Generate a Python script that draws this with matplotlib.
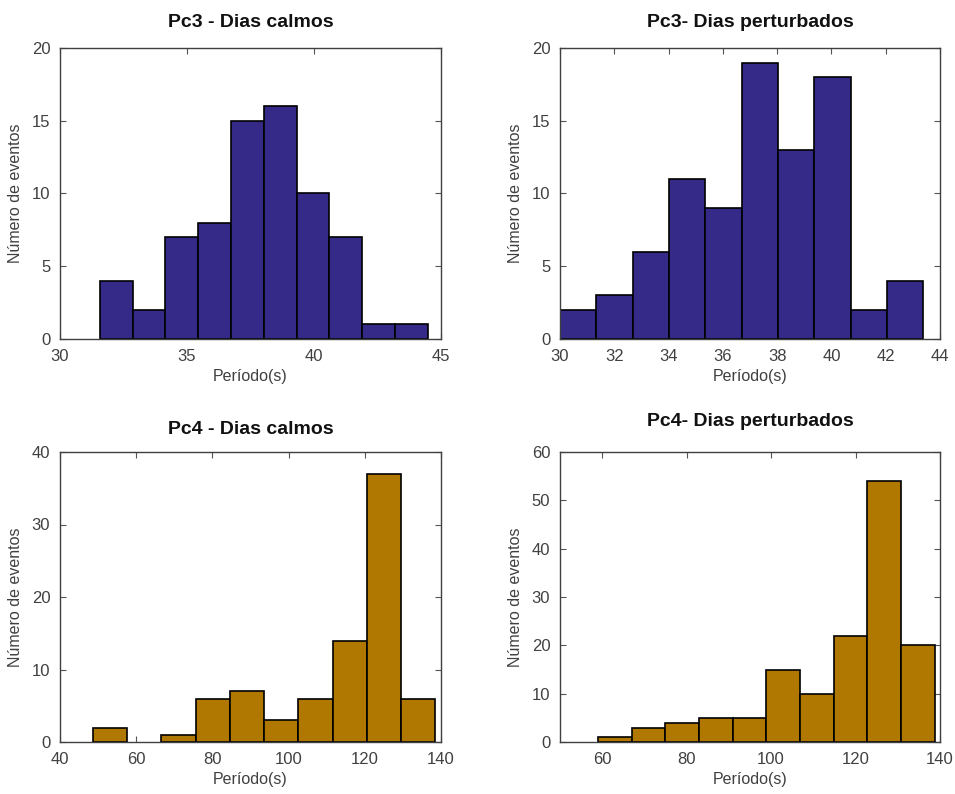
import numpy as np
import matplotlib
matplotlib.use('agg')
import matplotlib.pyplot as plt

plt.rcParams['font.family'] = ['Liberation Sans', 'DejaVu Sans']

# counts per bin
pc3_calm = [4, 2, 7, 8, 15, 16, 10, 7, 1, 1]
pc3_calm_range = (31.57, 44.48)
pc3_pert = [2, 3, 6, 11, 9, 19, 13, 18, 2, 4]
pc3_pert_range = (30.0, 43.39)
pc4_calm = [2, 0, 1, 6, 7, 3, 6, 14, 37, 6]
pc4_calm_range = (48.6, 138.5)
pc4_pert = [1, 3, 4, 5, 5, 15, 10, 22, 54, 20]
pc4_pert_range = (59.0, 138.7)

titles = ['Pc3 - Dias calmos', 'Pc3- Dias perturbados',
          'Pc4 - Dias calmos', 'Pc4- Dias perturbados']

blue = '#352a87'
gold = '#b07800'
txt = '#404040'

W, H = 955, 794
fig = plt.figure(figsize=(W/100, H/100), dpi=100)

def make_ax(x0, y0, x1, y1):
    return fig.add_axes([x0/W, 1 - y1/H, (x1-x0)/W, (y1-y0)/H])

boxes = [(60, 48, 441, 339), (560, 48, 940, 339),
         (60, 452, 441, 742), (560, 452, 940, 742)]
pads = [15, 15, 13, 19]
panels = [
    (pc3_calm, pc3_calm_range, blue, (30, 45), np.arange(30, 46, 5), (0, 20), np.arange(0, 21, 5)),
    (pc3_pert, pc3_pert_range, blue, (30, 44), np.arange(30, 45, 2), (0, 20), np.arange(0, 21, 5)),
    (pc4_calm, pc4_calm_range, gold, (40, 140), np.arange(40, 141, 20), (0, 40), np.arange(0, 41, 10)),
    (pc4_pert, pc4_pert_range, gold, (50, 140), np.arange(60, 141, 20), (0, 60), np.arange(0, 61, 10)),
]

for box, (counts, rng, col, xl, xt, yl, yt), title, pad in zip(boxes, panels, titles, pads):
    ax = make_ax(*box)
    counts = np.array(counts)
    edges = np.linspace(rng[0], rng[1], len(counts) + 1)
    keep = counts > 0  # empty bins leave no outline
    ax.bar(edges[:-1][keep], counts[keep], width=np.diff(edges)[keep], align='edge',
           color=col, edgecolor='black', linewidth=1.2, zorder=2)
    ax.set_xlim(*xl)
    ax.set_ylim(*yl)
    ax.set_xticks(xt)
    ax.set_yticks(yt)
    ax.tick_params(direction='in', length=4, width=0.8, top=True, right=True,
                   labelsize=12, colors='#555555', labelcolor=txt, pad=7)
    for s in ax.spines.values():
        s.set_color('#404040')
        s.set_linewidth(1.0)
    ax.set_title(title, fontsize=14, fontweight='bold', color='#111111', pad=pad)
    ax.set_xlabel('Período(s)', fontsize=11.5, color=txt, labelpad=4)
    ax.set_ylabel('Número de eventos', fontsize=11.5, color=txt, labelpad=6)

fig.savefig('out.png', dpi=100)
